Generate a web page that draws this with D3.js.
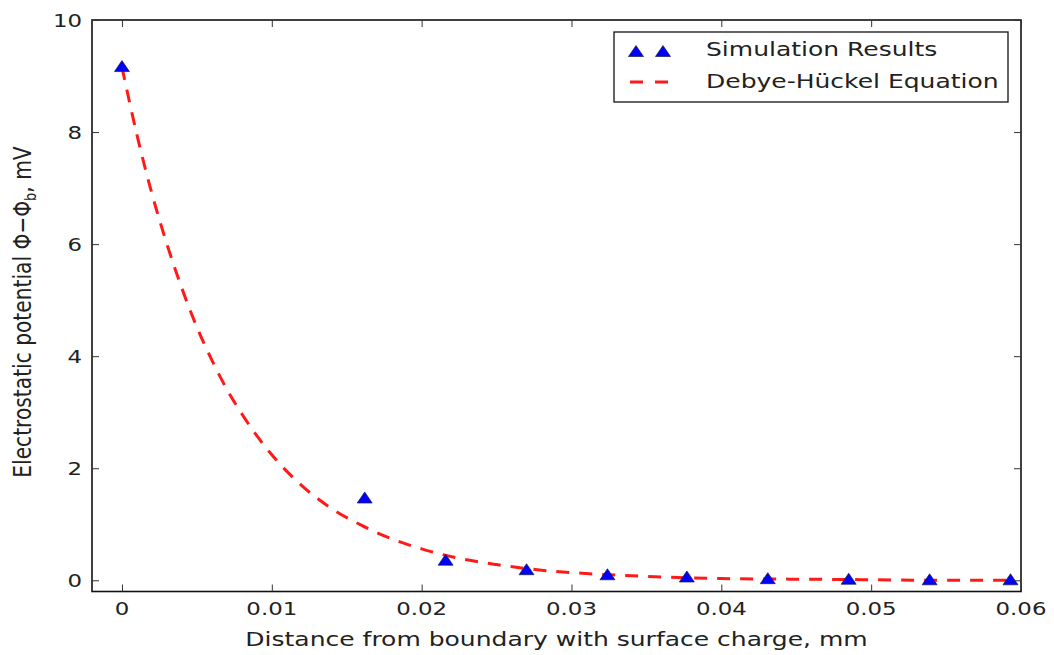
<!DOCTYPE html>
<html><head><meta charset="utf-8">
<script src="https://cdn.jsdelivr.net/npm/d3@7"></script>
<style>
html,body{margin:0;padding:0;background:#fff;}
svg{display:block;}
text{font-family:"DejaVu Sans",sans-serif;fill:#222;}
</style></head>
<body>
<svg id="chart" width="1054" height="655"></svg>
<script>
// ---- data ----
const simX = [0, 0.0162, 0.0216, 0.0270, 0.0324, 0.0377, 0.0431, 0.0485, 0.0539, 0.0593];
const simY = [9.16, 1.46, 0.35, 0.18, 0.09, 0.05, 0.02, 0.01, 0.0, 0.0];
const dhX = [0, 0.001, 0.002, 0.003, 0.004, 0.005, 0.006, 0.007, 0.008, 0.009, 0.010, 0.012, 0.014, 0.016, 0.018, 0.020, 0.022, 0.025, 0.028, 0.031, 0.035, 0.040, 0.045, 0.050, 0.055, 0.0596];
const dhY = [9.16, 7.95, 6.90, 6.00, 5.21, 4.52, 3.93, 3.41, 2.97, 2.58, 2.24, 1.69, 1.28, 0.98, 0.74, 0.56, 0.42, 0.28, 0.18, 0.12, 0.07, 0.03, 0.02, 0.01, 0.0, 0.0];
const xTicks = [0, 0.01, 0.02, 0.03, 0.04, 0.05, 0.06];
const xTickLabels = ["0", "0.01", "0.02", "0.03", "0.04", "0.05", "0.06"];
const yTicks = [0, 2, 4, 6, 8, 10];
const yTickLabels = ["0", "2", "4", "6", "8", "10"];
const seriesNames = ["Simulation Results", "Debye-Hückel Equation"];

// ---- layout ----
const SX = 1.27; // horizontal stretch of the original image
const pL = 92, pR = 1021, pT = 20, pB = 591.5;
const svg = d3.select("#chart");
const x = d3.scaleLinear().domain([-0.002, 0.06]).range([pL, pR]);
const y = d3.scaleLinear().domain([-0.2, 10]).range([pB, pT]);

// Debye-Hückel curve
const line = d3.line().x(d => x(d[0])).y(d => y(d[1])).curve(d3.curveMonotoneX);
svg.append("path")
  .datum(dhX.map((v, i) => [v, dhY[i]]))
  .attr("d", line)
  .attr("fill", "none")
  .attr("stroke", "#ff1a1a")
  .attr("stroke-width", 3)
  .attr("stroke-dasharray", "13,10");

// triangles
const tri = "M0,-6.5 L7.5,4.5 L-7.5,4.5 Z";
svg.append("g").selectAll("path")
  .data(simX.map((v, i) => [v, simY[i]]))
  .join("path")
  .attr("d", tri)
  .attr("transform", d => `translate(${x(d[0])},${y(d[1])})`)
  .attr("fill", "#0000ff")
  .attr("stroke", "#1a1a40")
  .attr("stroke-width", 0.7);

// frame
svg.append("rect")
  .attr("x", pL).attr("y", pT)
  .attr("width", pR - pL).attr("height", pB - pT)
  .attr("fill", "none").attr("stroke", "#111").attr("stroke-width", 1.6);

// axes (inward ticks, all four sides)
const tickLen = 7;
const xAxisB = d3.axisBottom(x).tickValues(xTicks).tickSize(-tickLen).tickFormat("");
const xAxisT = d3.axisTop(x).tickValues(xTicks).tickSize(-tickLen).tickFormat("");
const yAxisL = d3.axisLeft(y).tickValues(yTicks).tickSize(-tickLen).tickFormat("");
const yAxisR = d3.axisRight(y).tickValues(yTicks).tickSize(-tickLen).tickFormat("");
function styleAxis(g){ g.select(".domain").remove(); g.selectAll("line").attr("stroke","#333").attr("stroke-width",1); }
svg.append("g").attr("transform", `translate(0,${pB})`).call(xAxisB).call(styleAxis);
svg.append("g").attr("transform", `translate(0,${pT})`).call(xAxisT).call(styleAxis);
svg.append("g").attr("transform", `translate(${pL},0)`).call(yAxisL).call(styleAxis);
svg.append("g").attr("transform", `translate(${pR},0)`).call(yAxisR).call(styleAxis);

// tick labels
svg.append("g").selectAll("text")
  .data(xTicks)
  .join("text")
  .attr("transform", d => `translate(${x(d)},615) scale(${SX},1)`)
  .attr("text-anchor", "middle")
  .attr("font-size", 18)
  .text((d, i) => xTickLabels[i]);
svg.append("g").selectAll("text")
  .data(yTicks)
  .join("text")
  .attr("transform", d => `translate(82,${y(d) + 6.5}) scale(${SX},1)`)
  .attr("text-anchor", "end")
  .attr("font-size", 18)
  .text((d, i) => yTickLabels[i]);

// axis labels
svg.append("text")
  .attr("transform", `translate(${(pL + pR) / 2},646) scale(${SX},1)`)
  .attr("text-anchor", "middle")
  .attr("font-size", 19.7)
  .text("Distance from boundary with surface charge, mm");

const yl = svg.append("text")
  .attr("transform", `translate(31,312) scale(${SX},1) rotate(-90)`)
  .attr("text-anchor", "middle")
  .attr("font-size", 20.2);
yl.append("tspan").text("Electrostatic potential Φ−Φ");
yl.append("tspan").attr("font-size", 13).attr("dy", 4).text("b");
yl.append("tspan").attr("dy", -4).text(", mV");

// legend
svg.append("rect")
  .attr("x", 614).attr("y", 32).attr("width", 394).attr("height", 70)
  .attr("fill", "#fff").attr("stroke", "#111").attr("stroke-width", 1.3);
svg.append("g").selectAll("path")
  .data([636, 663])
  .join("path")
  .attr("d", tri)
  .attr("transform", d => `translate(${d},52)`)
  .attr("fill", "#0000ff")
  .attr("stroke", "#1a1a40")
  .attr("stroke-width", 0.7);
svg.append("line")
  .attr("x1", 630).attr("x2", 668).attr("y1", 82).attr("y2", 82)
  .attr("stroke", "#ff1a1a").attr("stroke-width", 3)
  .attr("stroke-dasharray", "13,12");
svg.append("g").selectAll("text")
  .data(seriesNames)
  .join("text")
  .attr("transform", (d, i) => `translate(706,${56 + i * 32}) scale(${SX},1)`)
  .attr("font-size", 19.7)
  .text(d => d);
</script>
</body></html>
